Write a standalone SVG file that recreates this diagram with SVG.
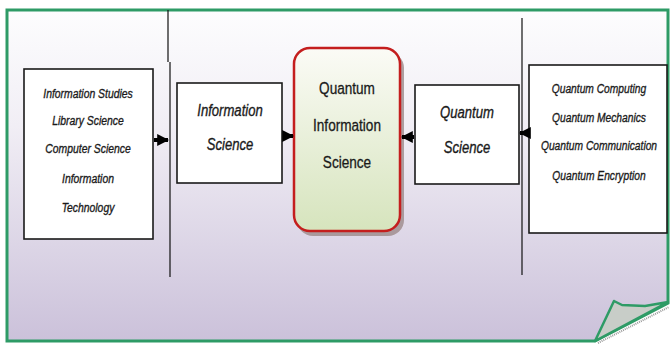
<svg xmlns="http://www.w3.org/2000/svg" width="670" height="345" viewBox="0 0 670 345">
<defs>
<linearGradient id="bg" x1="0" y1="0" x2="0" y2="1">
<stop offset="0" stop-color="#fdfdfe"/>
<stop offset="0.35" stop-color="#f1eef5"/>
<stop offset="1" stop-color="#cbc1da"/>
</linearGradient>
<linearGradient id="qis" x1="0" y1="0" x2="0" y2="1">
<stop offset="0" stop-color="#fbfbf6"/>
<stop offset="1" stop-color="#d6e4bd"/>
</linearGradient>
<marker id="ah" viewBox="0 0 10 10" refX="9" refY="5" markerWidth="3" markerHeight="3.4" orient="auto" markerUnits="strokeWidth">
<path d="M0,0 L10,5 L0,10 Z" fill="#000"/>
</marker>
<style>
.box{fill:#fff;stroke:#1a1a1a;stroke-width:1.6}
.t{font-family:"Liberation Sans","DejaVu Sans",sans-serif;font-style:italic;fill:#1a1a1a;stroke:#1a1a1a;stroke-width:0.35;text-anchor:middle}
.s{font-size:13.5px}
.l{font-size:17px}
.q{font-family:"Liberation Sans","DejaVu Sans",sans-serif;fill:#1a1a1a;stroke:#1a1a1a;stroke-width:0.3;text-anchor:middle;font-size:17px}
.div{stroke:#111;stroke-width:1.2;fill:none}
.con{stroke:#000;stroke-width:4;fill:none;marker-end:url(#ah)}
</style>
</defs>
<rect width="670" height="345" fill="#fff"/>
<g id="frame">
<path d="M7,10 H668 V303 L595,341 H7 Z" fill="url(#bg)" stroke="#2e9b66" stroke-width="3"/>
<path d="M595,341 L614,301 L622,305 L645,306 L668,302 Z" fill="#c8cdc8" stroke="#2e9b66" stroke-width="2.5" stroke-linejoin="round"/>
<path d="M598,343 L669,307" stroke="#9a9a9a" stroke-width="2" stroke-dasharray="1,1"/>
</g>
<g id="dividers">
<path class="div" d="M168,10 V62 M170,62 V277"/>
<path class="div" d="M522,18 V275"/>
</g>
<g id="n-sources-info">
<rect class="box" x="24" y="69" width="129" height="170"/>
<g transform="translate(88,0) scale(0.77,1)">
<text class="t s" x="0" y="98">Information Studies</text>
<text class="t s" x="0" y="125">Library Science</text>
<text class="t s" x="0" y="153">Computer Science</text>
<text class="t s" x="0" y="183">Information</text>
<text class="t s" x="0" y="212">Technology</text>
</g>
</g>
<g id="n-info-science">
<rect class="box" x="177" y="83" width="105" height="100"/>
<g transform="translate(230,0) scale(0.77,1)">
<text class="t l" x="0" y="116">Information</text>
<text class="t l" x="0" y="150">Science</text>
</g>
</g>
<g id="n-qis">
<rect x="297" y="52" width="107" height="184" rx="16" fill="#9c8a8a" opacity="0.8"/>
<rect x="294" y="48" width="106" height="183" rx="16" fill="url(#qis)" stroke="#c41e1e" stroke-width="2.5"/>
<g transform="translate(347,0) scale(0.8,1)">
<text class="q" x="0" y="94">Quantum</text>
<text class="q" x="0" y="131">Information</text>
<text class="q" x="0" y="168">Science</text>
</g>
</g>
<g id="n-quantum-science">
<rect class="box" x="415" y="85" width="104" height="99"/>
<g transform="translate(467,0) scale(0.77,1)">
<text class="t l" x="0" y="118">Quantum</text>
<text class="t l" x="0" y="153">Science</text>
</g>
</g>
<g id="n-sources-quantum">
<rect class="box" x="529" y="65" width="138" height="168"/>
<g transform="translate(599,0) scale(0.76,1)">
<text class="t s" x="0" y="93">Quantum Computing</text>
<text class="t s" x="0" y="122">Quantum Mechanics</text>
<text class="t s" x="0" y="150">Quantum Communication</text>
<text class="t s" x="0" y="180">Quantum Encryption</text>
</g>
</g>
<g id="connectors">
<line class="con" x1="154" y1="140" x2="168" y2="140"/>
<line class="con" x1="283" y1="136" x2="293" y2="136"/>
<line class="con" x1="414" y1="137" x2="402" y2="137"/>
<line class="con" x1="528" y1="133" x2="520" y2="133"/>
</g>
</svg>
